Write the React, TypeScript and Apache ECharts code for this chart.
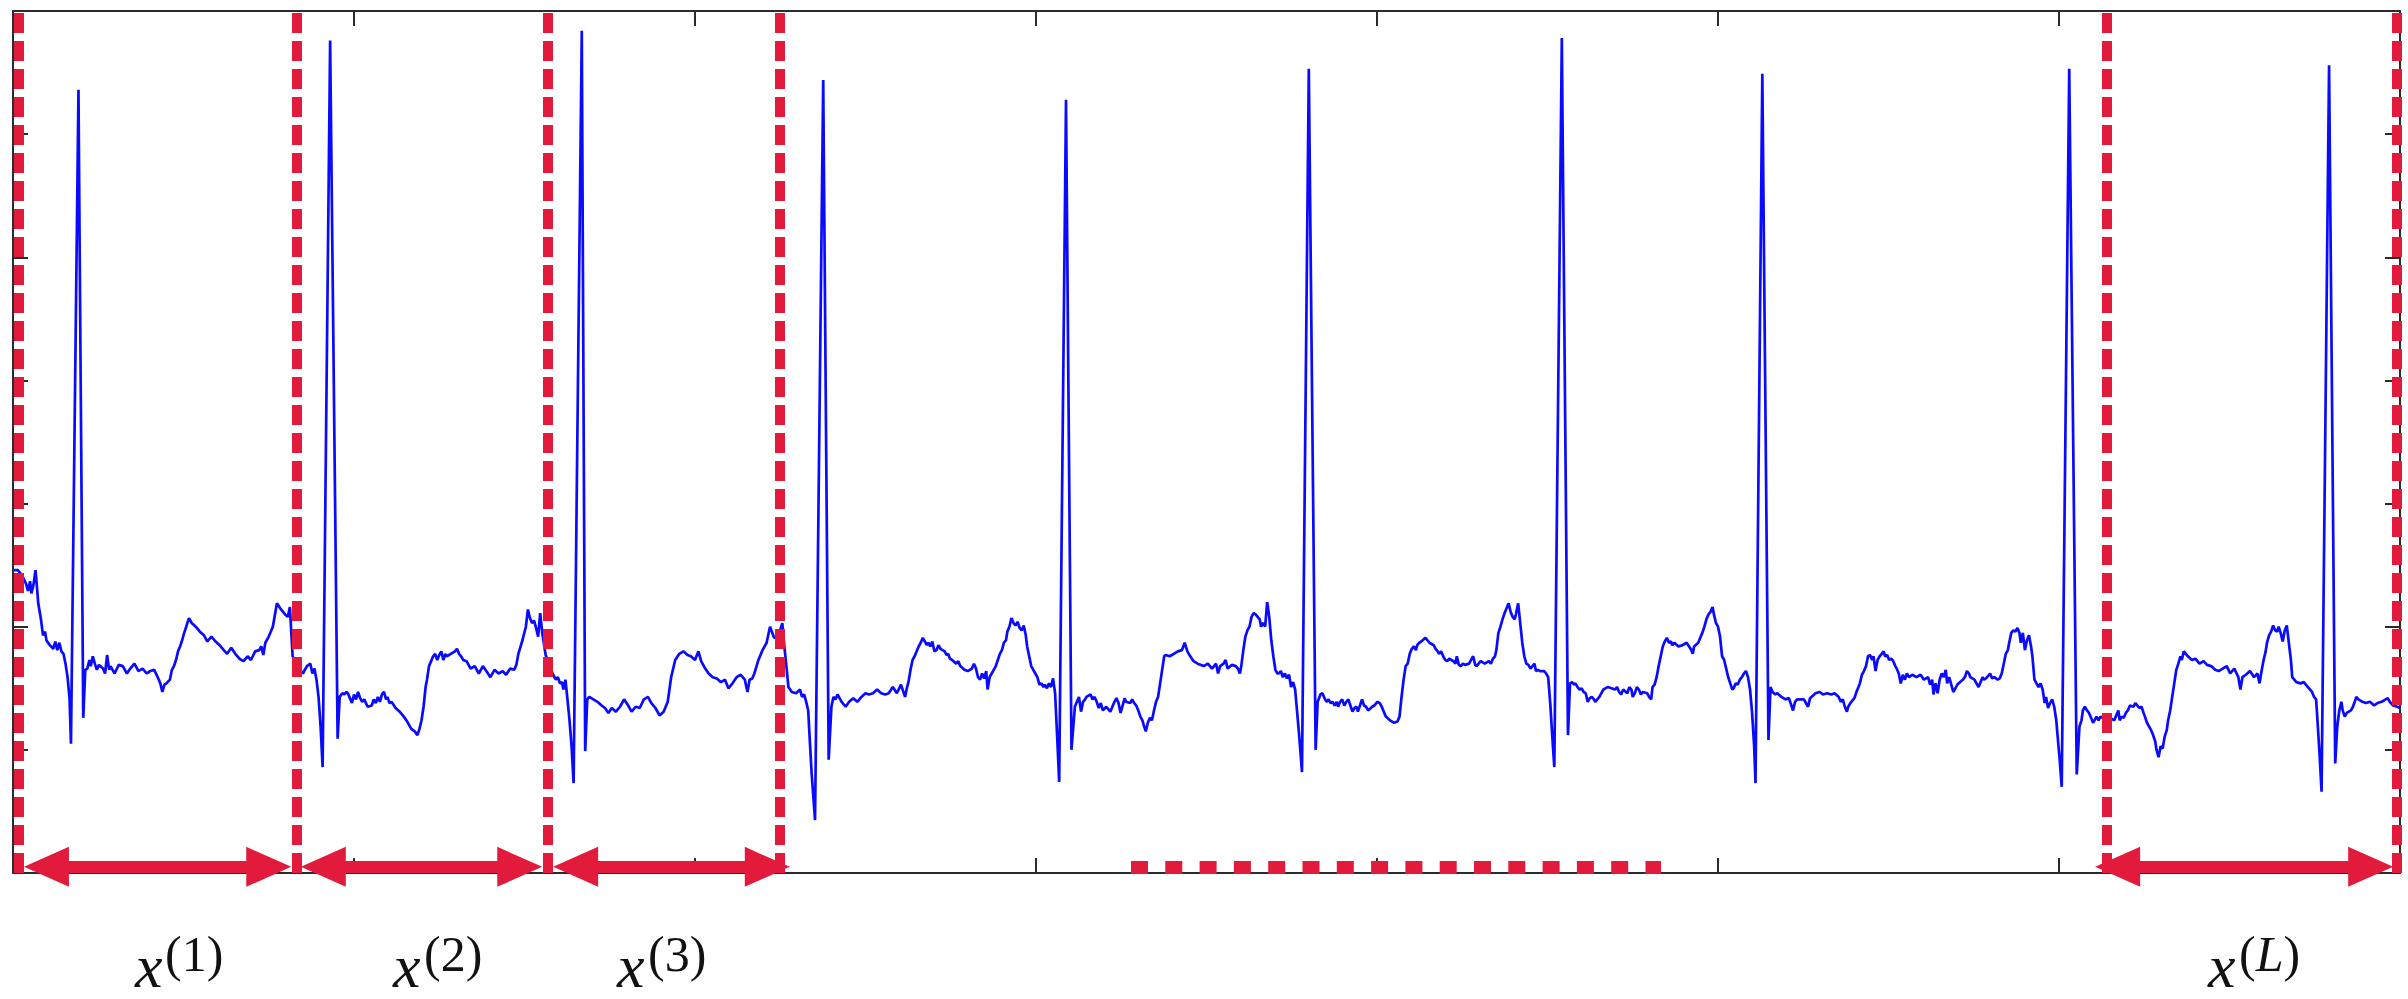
import React, { useEffect, useRef } from "react";
import * as echarts from "echarts";

// ---- axes (time in samples, amplitude in mV) ----
const X_MIN = 0;
const X_MAX = 3500;
const X_STEP = 500;
const Y_MIN = 0;
const Y_MAX = 7;
const Y_STEP = 1;

// ---- ECG trace: [sample, mV] ----
const ecgSegA: [number, number][] = [
  [0,2.46],[7,2.46],[13,2.42],[19,2.35],[22,2.29],[25,2.37],[27,2.27],[30,2.34],[33,2.46],[35,2.33],[37,2.19],[41,2.06],[44,1.93],[47,1.96],[49,1.89],[54,1.85],[56,1.84],[59,1.82],[62,1.88],[65,1.81],[68,1.87],[71,1.80],[74,1.78],[77,1.70],[80,1.59],[83,1.41],[85,1.05],[96,6.36],[103,1.26],[106,1.65],[109,1.66],[112,1.73],[114,1.68],[117,1.76],[120,1.70],[123,1.65],[126,1.69],[132,1.66],[135,1.62],[138,1.77],[141,1.65],[143,1.68],[149,1.62],[155,1.69],[161,1.68],[167,1.62],[172,1.66],[178,1.70],[184,1.64],[190,1.66],[196,1.62],[201,1.64],[207,1.65],[213,1.58],[216,1.54],[219,1.47],[222,1.53],[225,1.54],[230,1.57],[233,1.65],[236,1.68],[239,1.73],[242,1.80],[245,1.84],[248,1.89],[251,1.95],[254,2.00],[258,2.07],[262,2.03],[268,2.00],[274,1.96],[280,1.93],[285,1.88],[291,1.92],[297,1.88],[303,1.85],[309,1.81],[314,1.78],[320,1.83],[326,1.78],[332,1.74],[338,1.72],[344,1.76],[349,1.73],[355,1.80],[361,1.81],[364,1.84],[367,1.77],[370,1.87],[375,1.92],[381,2.00],[387,2.19],[393,2.14],[399,2.10],[403,2.08],[406,2.16],[410,1.76],[417,1.68],
  [425,1.62],[431,1.68],[436,1.70],[439,1.62],[442,1.66],[445,1.57],[448,1.43],[451,1.19],[454,0.86],[465,6.76],[476,1.09],[479,1.43],[483,1.46],[486,1.45],[489,1.47],[491,1.46],[494,1.42],[497,1.38],[500,1.45],[503,1.41],[506,1.47],[509,1.42],[512,1.39],[515,1.41],[520,1.35],[526,1.36],[529,1.41],[532,1.38],[535,1.43],[538,1.39],[541,1.45],[544,1.47],[547,1.41],[549,1.43],[552,1.38],[555,1.39],[561,1.34],[567,1.31],[573,1.27],[578,1.23],[584,1.17],[589,1.15],[593,1.12],[596,1.17],[599,1.24],[602,1.35],[605,1.51],[607,1.57],[610,1.68],[613,1.72],[616,1.76],[619,1.78],[622,1.73],[625,1.77],[628,1.80],[631,1.73],[634,1.78],[636,1.76],[642,1.78],[648,1.80],[651,1.82],[654,1.78],[657,1.76],[660,1.73],[665,1.72],[671,1.66],[677,1.68],[683,1.62],[689,1.68],[694,1.64],[700,1.59],[706,1.65],[712,1.62],[718,1.64],[723,1.61],[729,1.66],[735,1.65],[738,1.69],[741,1.78],[747,1.89],[752,2.00],[755,2.14],[758,2.07],[761,2.03],[764,2.05],[767,1.99],[770,1.92],[773,2.11],[776,1.95],[781,1.77],[787,1.68],[792,1.61],[796,1.57],[799,1.59],[802,1.54],[805,1.55],[807,1.49],[810,1.57],[813,1.41],[816,1.24],[819,1.03],[822,0.73],[834,6.84],[839,0.99],[842,1.41],[845,1.43],[851,1.41],[857,1.39],[863,1.36],[868,1.34],
];

const ecgSegB: [number, number][] = [
  [873,1.30],[878,1.34],[884,1.31],[890,1.35],[896,1.41],[902,1.36],[907,1.31],[913,1.35],[919,1.34],[925,1.41],[931,1.43],[936,1.38],[942,1.34],[948,1.28],[954,1.31],[960,1.39],[965,1.59],[971,1.73],[977,1.78],[983,1.80],[989,1.77],[994,1.76],[1000,1.73],[1005,1.80],[1009,1.72],[1015,1.66],[1020,1.62],[1026,1.59],[1032,1.58],[1038,1.55],[1044,1.57],[1049,1.50],[1055,1.54],[1061,1.59],[1067,1.61],[1073,1.57],[1077,1.47],[1080,1.57],[1084,1.58],[1087,1.62],[1093,1.73],[1099,1.81],[1105,1.87],[1110,2.00],[1116,1.91],[1122,1.92],[1128,2.03],[1131,1.84],[1134,1.68],[1137,1.51],[1142,1.47],[1148,1.46],[1154,1.49],[1157,1.43],[1160,1.45],[1163,1.39],[1166,1.32],[1168,1.11],[1171,0.81],[1176,0.43],[1188,6.44],[1196,0.92],[1200,1.35],[1203,1.43],[1206,1.41],[1209,1.45],[1215,1.39],[1221,1.35],[1226,1.39],[1232,1.42],[1238,1.39],[1244,1.43],[1250,1.46],[1255,1.45],[1261,1.46],[1267,1.49],[1273,1.46],[1279,1.45],[1284,1.46],[1290,1.51],[1296,1.46],[1302,1.53],[1308,1.43],[1311,1.51],[1313,1.55],[1316,1.65],[1319,1.73],[1322,1.76],[1325,1.80],[1328,1.84],[1331,1.87],[1334,1.91],[1337,1.88],[1340,1.85],[1342,1.87],[1345,1.84],[1348,1.88],[1351,1.80],[1354,1.81],[1357,1.85],[1360,1.82],[1366,1.80],[1369,1.77],[1371,1.78],[1374,1.74],[1377,1.73],[1383,1.70],[1386,1.72],[1389,1.68],[1395,1.65],[1400,1.64],[1406,1.66],[1409,1.70],[1412,1.66],[1415,1.59],[1418,1.57],[1421,1.62],[1424,1.58],[1427,1.64],[1429,1.49],[1432,1.59],[1435,1.62],[1438,1.65],[1441,1.68],[1444,1.73],[1447,1.78],[1450,1.81],[1453,1.87],[1456,1.89],[1458,1.96],[1461,2.00],[1464,2.07],[1467,2.03],[1470,2.01],[1473,2.04],[1476,1.99],[1479,1.97],[1482,2.01],[1485,1.93],[1487,1.84],[1490,1.76],[1493,1.68],[1496,1.65],[1499,1.62],[1502,1.59],[1505,1.53],[1508,1.54],[1511,1.51],[1513,1.53],[1516,1.50],[1519,1.54],[1522,1.51],[1525,1.58],[1528,1.46],[1531,1.11],[1534,0.74],[1544,6.28],[1552,1.00],[1557,1.35],[1560,1.39],[1563,1.43],[1566,1.31],[1569,1.39],[1572,1.41],[1574,1.43],[1580,1.45],[1583,1.41],[1586,1.43],[1589,1.39],[1592,1.34],[1595,1.38],[1598,1.32],[1603,1.35],[1609,1.31],[1615,1.39],[1618,1.42],[1621,1.38],[1624,1.30],[1627,1.36],[1630,1.42],[1632,1.39],[1638,1.38],[1641,1.41],[1644,1.38],[1647,1.36],[1650,1.32],[1653,1.27],[1656,1.24],[1658,1.20],[1661,1.15],[1664,1.22],[1667,1.26],[1670,1.24],[1673,1.32],[1676,1.39],[1679,1.43],[1682,1.54],[1685,1.65],[1688,1.76],[1690,1.77],[1696,1.76],[1702,1.78],[1708,1.80],[1714,1.81],[1718,1.87],[1722,1.80],[1725,1.77],[1731,1.72],[1737,1.70],
];

const ecgSegC: [number, number][] = [
  [1746,1.68],[1752,1.70],[1758,1.66],[1764,1.70],[1767,1.62],[1770,1.68],[1775,1.70],[1778,1.73],[1781,1.66],[1787,1.69],[1793,1.68],[1796,1.66],[1799,1.62],[1801,1.68],[1804,1.81],[1807,1.92],[1810,1.97],[1813,2.00],[1816,2.08],[1819,2.11],[1822,2.10],[1825,2.08],[1828,2.06],[1830,2.00],[1833,2.03],[1836,2.00],[1839,2.20],[1842,2.08],[1845,1.89],[1848,1.76],[1851,1.65],[1854,1.62],[1856,1.62],[1859,1.64],[1862,1.59],[1865,1.62],[1868,1.58],[1871,1.61],[1874,1.51],[1877,1.55],[1880,1.49],[1883,1.30],[1886,1.11],[1890,0.82],[1900,6.53],[1910,1.00],[1913,1.39],[1917,1.45],[1920,1.46],[1923,1.42],[1926,1.39],[1929,1.41],[1932,1.38],[1935,1.39],[1938,1.36],[1941,1.39],[1943,1.35],[1946,1.39],[1949,1.41],[1952,1.36],[1955,1.39],[1958,1.41],[1961,1.36],[1964,1.31],[1967,1.34],[1970,1.35],[1972,1.31],[1975,1.36],[1978,1.41],[1981,1.36],[1984,1.35],[1987,1.32],[1993,1.35],[1996,1.36],[1999,1.38],[2001,1.39],[2004,1.38],[2007,1.35],[2010,1.31],[2013,1.27],[2019,1.24],[2025,1.22],[2030,1.23],[2033,1.27],[2036,1.43],[2039,1.57],[2042,1.68],[2045,1.70],[2048,1.78],[2051,1.82],[2054,1.84],[2057,1.81],[2059,1.85],[2062,1.87],[2065,1.88],[2071,1.91],[2074,1.89],[2077,1.87],[2083,1.85],[2086,1.82],[2089,1.80],[2091,1.78],[2094,1.80],[2097,1.76],[2100,1.73],[2103,1.72],[2106,1.74],[2112,1.72],[2115,1.70],[2117,1.76],[2120,1.69],[2123,1.68],[2126,1.70],[2129,1.69],[2135,1.70],[2138,1.73],[2141,1.76],[2144,1.69],[2146,1.68],[2149,1.70],[2152,1.72],[2158,1.70],[2164,1.72],[2167,1.70],[2170,1.74],[2173,1.76],[2175,1.81],[2178,1.95],[2181,2.00],[2184,2.06],[2187,2.11],[2190,2.15],[2193,2.19],[2196,2.12],[2199,2.08],[2202,2.06],[2204,2.11],[2207,2.19],[2210,2.03],[2213,1.87],[2216,1.76],[2219,1.70],[2222,1.69],[2225,1.66],[2228,1.68],[2231,1.70],[2233,1.64],[2236,1.65],[2239,1.64],[2245,1.64],[2248,1.62],[2251,1.59],[2254,1.38],[2257,1.11],[2260,0.86],[2271,6.78],[2280,1.12],[2283,1.54],[2286,1.55],[2289,1.53],[2291,1.54],[2294,1.51],[2297,1.49],[2300,1.50],[2303,1.47],[2306,1.46],[2309,1.39],[2312,1.42],[2315,1.43],[2318,1.41],[2320,1.39],[2323,1.41],[2326,1.43],[2329,1.46],[2332,1.49],[2335,1.50],[2338,1.51],[2344,1.50],[2349,1.49],[2352,1.51],[2355,1.47],[2358,1.45],[2361,1.49],[2367,1.46],[2370,1.51],[2373,1.49],[2375,1.43],[2378,1.46],[2381,1.51],[2384,1.49],[2387,1.45],[2390,1.47],[2396,1.46],[2399,1.43],[2402,1.41],[2404,1.51],[2407,1.53],[2410,1.59],[2413,1.68],[2416,1.76],[2419,1.84],[2422,1.88],[2425,1.91],[2428,1.87],[2431,1.88],[2433,1.85],[2436,1.87],[2442,1.84],[2448,1.85],[2454,1.87],[2460,1.82],[2463,1.78],[2465,1.84],[2471,1.87],[2474,1.91],[2477,1.95],[2480,2.00],[2483,2.06],[2486,2.10],[2489,2.12],[2492,2.16],[2494,2.10],[2497,2.03],[2500,2.00],[2503,1.92],[2506,1.76],[2509,1.73],[2512,1.66],[2515,1.59],[2518,1.54],[2521,1.49],[2523,1.50],[2526,1.54],[2529,1.53],[2532,1.57],[2535,1.59],[2538,1.62],[2541,1.64],[2544,1.59],[2547,1.49],[2550,1.30],[2553,1.03],[2555,0.73],[2565,6.49],[2574,1.08],[2577,1.51],[2580,1.47],[2584,1.45],[2587,1.46],[2593,1.43],[2599,1.41],[2604,1.42],[2610,1.32],[2613,1.39],[2616,1.41],
];

const ecgSegD: [number, number][] = [
  [2626,1.41],[2632,1.35],[2635,1.42],[2637,1.43],[2643,1.46],[2649,1.47],[2654,1.45],[2660,1.46],[2666,1.45],[2671,1.46],[2677,1.43],[2680,1.39],[2683,1.41],[2686,1.35],[2689,1.31],[2691,1.35],[2694,1.38],[2700,1.42],[2703,1.47],[2706,1.51],[2708,1.54],[2711,1.61],[2714,1.64],[2717,1.68],[2720,1.76],[2723,1.77],[2726,1.73],[2728,1.76],[2731,1.64],[2734,1.73],[2737,1.76],[2740,1.78],[2743,1.80],[2745,1.76],[2748,1.77],[2751,1.73],[2754,1.74],[2757,1.72],[2760,1.68],[2762,1.66],[2765,1.62],[2768,1.54],[2771,1.61],[2774,1.57],[2777,1.62],[2780,1.59],[2785,1.61],[2791,1.59],[2797,1.61],[2802,1.57],[2805,1.58],[2808,1.59],[2811,1.53],[2814,1.57],[2816,1.45],[2819,1.54],[2822,1.46],[2825,1.57],[2828,1.62],[2831,1.59],[2834,1.65],[2836,1.54],[2839,1.59],[2842,1.53],[2845,1.47],[2848,1.50],[2851,1.53],[2853,1.54],[2859,1.57],[2862,1.59],[2865,1.64],[2868,1.62],[2870,1.59],[2876,1.57],[2879,1.54],[2882,1.51],[2885,1.55],[2888,1.59],[2890,1.57],[2893,1.58],[2899,1.62],[2902,1.58],[2905,1.59],[2910,1.57],[2913,1.58],[2916,1.62],[2919,1.70],[2922,1.78],[2925,1.81],[2927,1.87],[2930,1.95],[2933,1.97],[2936,1.96],[2939,1.99],[2942,1.95],[2944,1.87],[2947,1.95],[2950,1.81],[2953,1.89],[2956,1.93],[2959,1.84],[2961,1.76],[2964,1.57],[2967,1.54],[2970,1.51],[2973,1.54],[2976,1.49],[2979,1.38],[2981,1.43],[2984,1.34],[2987,1.38],[2990,1.41],[2993,1.35],[2996,1.24],[2998,1.11],[3001,0.92],[3004,0.70],[3015,6.53],[3026,0.80],[3030,1.19],[3033,1.24],[3035,1.32],[3038,1.35],[3041,1.32],[3044,1.30],[3047,1.26],[3050,1.22],[3052,1.24],[3055,1.27],[3058,1.24],[3061,1.27],[3064,1.26],[3069,1.27],[3075,1.26],[3081,1.24],[3084,1.28],[3087,1.32],[3089,1.24],[3092,1.27],[3095,1.26],[3098,1.30],[3101,1.32],[3104,1.36],[3109,1.35],[3112,1.38],[3115,1.36],[3118,1.34],[3121,1.35],[3124,1.30],[3126,1.27],[3129,1.22],[3132,1.19],[3135,1.16],[3138,1.12],[3141,1.07],[3143,1.00],[3146,0.94],[3149,1.03],[3152,1.01],[3155,1.11],[3158,1.16],[3160,1.24],[3163,1.32],[3166,1.43],[3169,1.54],[3172,1.65],[3175,1.70],[3178,1.76],[3180,1.73],[3183,1.80],[3186,1.78],[3189,1.76],[3195,1.73],[3200,1.74],[3206,1.70],[3212,1.72],[3217,1.69],[3223,1.68],[3229,1.65],[3234,1.64],[3240,1.66],[3246,1.68],[3251,1.62],[3257,1.66],[3263,1.59],[3266,1.49],[3269,1.59],[3274,1.61],[3280,1.64],[3286,1.59],[3291,1.62],[3294,1.54],[3297,1.64],[3300,1.73],[3303,1.80],[3305,1.87],[3308,1.93],[3311,1.96],[3314,2.01],[3317,1.97],[3320,1.96],[3322,2.00],[3325,1.95],[3328,1.88],[3331,1.97],[3334,2.01],[3337,1.87],[3340,1.73],[3342,1.59],[3345,1.57],[3348,1.55],[3354,1.54],[3359,1.55],[3365,1.51],[3371,1.47],[3374,1.43],[3377,1.41],[3379,1.24],[3382,0.97],[3385,0.66],[3396,6.56],[3405,0.89],[3408,1.19],[3411,1.32],[3414,1.39],[3416,1.32],[3419,1.27],[3422,1.30],[3425,1.31],[3428,1.32],[3431,1.35],[3433,1.38],[3436,1.43],[3439,1.41],[3445,1.39],[3450,1.38],[3456,1.39],[3462,1.36],[3467,1.38],[3473,1.39],[3479,1.41],[3482,1.42],[3485,1.39],[3490,1.36],[3496,1.35],[3500,1.34],
];

// ---- segmentation annotations (in data units) ----
const segmentBounds = [8.8, 416, 784.5, 1124.7, 3070.5, 3495.6];
const arrowTips: [number, number][] = [
  [16, 408],
  [422, 776],
  [792, 1139],
  [3053, 3490],
];
const arrowLevel = 0.05;
const dottedSpan: [number, number] = [1639.3, 2416.5];
const segmentLabels = ["1", "2", "3", "L"];

// ---- layout / style ----
const CHART_W = 2408;
const CHART_H = 999;
const GRID = { left: 13, top: 11, width: 2387, height: 862 };
const RED = "#e21b3c";
const BLUE = "#0a0aff";
const FRAME = "#2b2b2b";
const SERIF = '"Liberation Serif", "DejaVu Serif", serif';
const HEAD_LEN = 45;
const HEAD_W = 40;
const labelPos = [
  { x: 135, sx: 165 },
  { x: 393, sx: 424 },
  { x: 617, sx: 648 },
  { x: 2208, sx: 2239 },
];

export default function App() {
  const ref = useRef<HTMLDivElement>(null);

  useEffect(() => {
    if (!ref.current) return;
    const chart = echarts.init(ref.current, undefined, { renderer: "svg" });

    const ecg = [...ecgSegA, ...ecgSegB, ...ecgSegC, ...ecgSegD];
    const unitsPerPx = (X_MAX - X_MIN) / GRID.width;
    const inset = (HEAD_LEN / 2) * unitsPerPx;

    const boundLines = segmentBounds.map((v) => ({
      xAxis: v,
      symbol: "none",
      lineStyle: { color: RED, width: 10, type: [20, 8], opacity: 1 },
    }));
    const arrowStyle = { color: RED, width: 12, type: "solid", opacity: 1 };
    const arrows = arrowTips.map(([a, b]) => [
      { coord: [a + inset, arrowLevel], symbol: "triangle", symbolSize: [HEAD_W, HEAD_LEN], lineStyle: arrowStyle },
      { coord: [b - inset, arrowLevel], symbol: "triangle", symbolSize: [HEAD_W, HEAD_LEN], lineStyle: arrowStyle },
    ]);
    const dotStyle = { color: RED, width: 13, type: [17, 17.3], opacity: 1 };
    const dotted = [
      [
        { coord: [dottedSpan[0], arrowLevel], symbol: "none", lineStyle: dotStyle },
        { coord: [dottedSpan[1], arrowLevel], symbol: "none", lineStyle: dotStyle },
      ],
    ];

    const axisCommon = {
      axisLabel: { show: false },
      splitLine: { show: false },
      axisTick: {
        show: true,
        inside: true,
        length: 15,
        lineStyle: { color: FRAME, width: 2 },
      },
      axisLine: { show: true, onZero: false, lineStyle: { color: FRAME, width: 2 } },
    };

    const labelElements: any[] = [];
    segmentLabels.forEach((lab, i) => {
      const p = labelPos[i];
      const isVar = /[A-Za-z]/.test(lab);
      labelElements.push({
        type: "text",
        x: p.x,
        y: 966,
        silent: true,
        style: {
          text: "x",
          font: `italic 62px ${SERIF}`,
          lineHeight: 40,
          fill: "#111",
          align: "left",
          verticalAlign: "middle",
          textAlign: "left",
          textVerticalAlign: "middle",
        },
      });
      labelElements.push({
        type: "text",
        x: p.sx,
        y: 954,
        silent: true,
        style: {
          text: `{p|(}{${isVar ? "v" : "p"}|${lab}}{p|)}`,
          fill: "#111",
          align: "left",
          verticalAlign: "middle",
          textAlign: "left",
          textVerticalAlign: "middle",
          rich: {
            p: { font: `50px ${SERIF}`, fill: "#111", lineHeight: 50 },
            v: { font: `italic 50px ${SERIF}`, fill: "#111", lineHeight: 50 },
          },
        },
      });
    });

    chart.setOption({
      animation: false,
      backgroundColor: "#ffffff",
      grid: { ...GRID, containLabel: false },
      xAxis: [
        { type: "value", min: X_MIN, max: X_MAX, interval: X_STEP, position: "bottom", ...axisCommon },
        { type: "value", min: X_MIN, max: X_MAX, interval: X_STEP, position: "top", ...axisCommon },
      ],
      yAxis: [
        { type: "value", min: Y_MIN, max: Y_MAX, interval: Y_STEP, position: "left", ...axisCommon },
        { type: "value", min: Y_MIN, max: Y_MAX, interval: Y_STEP, position: "right", ...axisCommon },
      ],
      series: [
        {
          type: "line",
          xAxisIndex: 0,
          yAxisIndex: 0,
          data: ecg,
          showSymbol: false,
          symbol: "none",
          silent: true,
          lineStyle: { color: BLUE, width: 2.7 },
          itemStyle: { color: BLUE },
          markLine: {
            silent: true,
            animation: false,
            symbol: ["none", "none"],
            label: { show: false },
            emphasis: { disabled: true },
            data: [...boundLines, ...arrows, ...dotted],
          },
        },
      ],
      graphic: { elements: labelElements },
    });

    return () => chart.dispose();
  }, []);

  return (
    <div
      ref={ref}
      style={{
        position: "fixed",
        left: 0,
        top: 0,
        width: CHART_W,
        height: CHART_H,
        background: "#ffffff",
      }}
    />
  );
}
